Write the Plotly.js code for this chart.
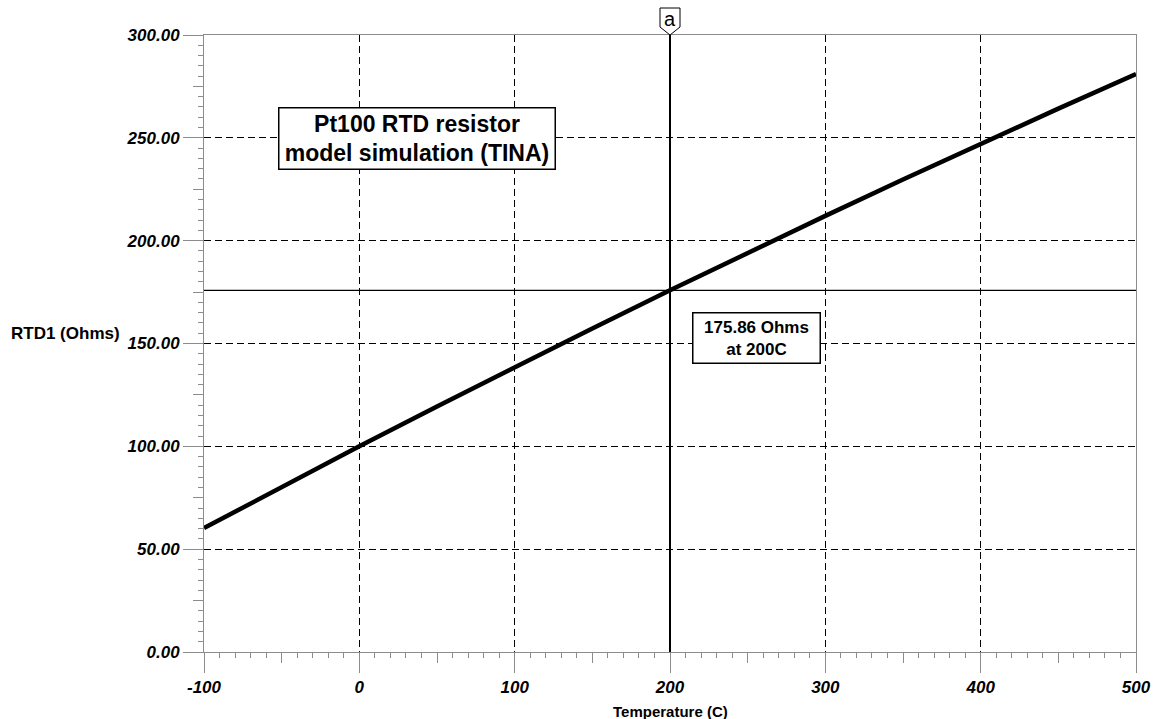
<!DOCTYPE html>
<html>
<head>
<meta charset="utf-8">
<script src="https://cdn.plot.ly/plotly-3.0.1.min.js"></script>
<style>html,body{margin:0;padding:0;background:#fff;}#chart{width:1163px;height:719px;}</style>
</head>
<body>
<div id="chart"></div>
<script>
// Temperature (C) and RTD1 resistance (Ohms)
const temperature = [-100, -50, 0, 50, 100, 150, 200, 250, 300, 350, 400, 450, 500];
const resistance  = [60.26, 80.31, 100.00, 119.40, 138.51, 157.33, 175.86, 194.10, 212.05, 229.72, 247.09, 264.18, 280.98];
const xTickVals   = [-100, 0, 100, 200, 300, 400, 500];
const xTickLabels = ['-100', '0', '100', '200', '300', '400', '500'];
const yTickVals   = [0, 50, 100, 150, 200, 250, 300];
const yTickLabels = ['0.00', '50.00', '100.00', '150.00', '200.00', '250.00', '300.00'];
const xGridVals = [0, 100, 200, 300, 400];
const yGridVals = [50, 100, 150, 200, 250];
const cursorX = 200;
const cursorY = 175.86;
const xRange = [-100, 500];
const yRange = [0, 300];
const boxText = 'Pt100 RTD resistor<br>model simulation (TINA)';
const cursorText = '175.86 Ohms<br>at 200C';

const F = 'Arial, "Liberation Sans", sans-serif';
const gray = '#8c8c8c';

const main = {x: temperature, y: resistance, type: 'scatter', mode: 'lines',
  line: {color: '#000', width: 4.5}, hoverinfo: 'skip', showlegend: false, xaxis: 'x', yaxis: 'y'};
const dummy2 = {x: temperature, y: resistance, type: 'scatter', mode: 'lines',
  line: {width: 0}, opacity: 0, hoverinfo: 'skip', showlegend: false, xaxis: 'x2', yaxis: 'y2'};
const dummy3 = {x: temperature, y: resistance, type: 'scatter', mode: 'lines',
  line: {width: 0}, opacity: 0, hoverinfo: 'skip', showlegend: false, xaxis: 'x3', yaxis: 'y3'};

const dash = '7px,4px';
const tickFont = {family: F, size: 17, weight: 'bold', style: 'italic', color: '#000'};
const layout = {
  width: 1163, height: 719,
  margin: {l: 204, r: 27, t: 35, b: 67},
  paper_bgcolor: '#fff', plot_bgcolor: '#fff',
  showlegend: false,
  xaxis: {range: xRange, tickmode: 'array', tickvals: xTickVals, ticktext: xTickLabels,
    ticks: 'outside', ticklen: 20, tickcolor: gray, tickwidth: 1,
    minor: {dtick: 10, tick0: -100, ticks: 'outside', ticklen: 5, tickcolor: gray, tickwidth: 1, showgrid: false},
    showgrid: false, zeroline: false, showline: true, linecolor: gray, linewidth: 1, mirror: true,
    tickfont: tickFont, fixedrange: true},
  xaxis2: {overlaying: 'x', anchor: 'y2', range: xRange, tick0: -100, dtick: 50, ticks: 'outside', ticklen: 10,
    tickcolor: gray, showticklabels: false, showgrid: false, zeroline: false, showline: false, fixedrange: true},
  xaxis3: {overlaying: 'x', anchor: 'y3', range: xRange, tickvals: xGridVals, ticks: '', showticklabels: false,
    showgrid: true, gridcolor: '#000', gridwidth: 1, griddash: dash, zeroline: false, showline: false, fixedrange: true},
  yaxis: {range: yRange, tickmode: 'array', tickvals: yTickVals, ticktext: yTickLabels,
    ticks: 'outside', ticklen: 20, tickcolor: gray, tickwidth: 1,
    minor: {dtick: 5, tick0: 0, ticks: 'outside', ticklen: 5, tickcolor: gray, tickwidth: 1, showgrid: false},
    showgrid: false, zeroline: false, showline: true, linecolor: gray, linewidth: 1, mirror: true,
    tickfont: tickFont, fixedrange: true},
  yaxis2: {overlaying: 'y', anchor: 'x2', range: yRange, tick0: 0, dtick: 25, ticks: 'outside', ticklen: 10,
    tickcolor: gray, showticklabels: false, showgrid: false, zeroline: false, showline: false, fixedrange: true},
  yaxis3: {overlaying: 'y', anchor: 'x3', range: yRange, tickvals: yGridVals, ticks: '', showticklabels: false,
    showgrid: true, gridcolor: '#000', gridwidth: 1, griddash: dash, zeroline: false, showline: false, fixedrange: true},
  shapes: [
    {type: 'line', xref: 'x', yref: 'y', x0: cursorX, x1: cursorX, y0: yRange[0], y1: yRange[1],
      line: {color: '#000', width: 2}},
    {type: 'line', xref: 'x', yref: 'y', x0: xRange[0], x1: xRange[1], y0: cursorY, y1: cursorY,
      line: {color: '#000', width: 1.3}},
    {type: 'path', xref: 'x', yref: 'paper', xsizemode: 'pixel', ysizemode: 'pixel', xanchor: cursorX, yanchor: 1,
      path: 'M -10,27 L 10,27 L 10,8 L 0,0 L -10,8 Z', fillcolor: '#fff', line: {color: '#000', width: 1}}
  ],
  annotations: [
    {text: 'a', xref: 'x', yref: 'paper', x: cursorX, y: 1, yanchor: 'middle', yshift: 16, showarrow: false,
      font: {family: F, size: 20, color: '#000'}},
    {text: boxText, xref: 'x', yref: 'y', x: 37, y: 249.6, showarrow: false, align: 'center',
      width: 271, font: {family: F, size: 23, weight: 'bold', color: '#000'},
      bordercolor: '#000', borderwidth: 1.5, borderpad: 2, bgcolor: '#fff'},
    {text: cursorText, xref: 'x', yref: 'y', x: 255.4, y: 152.8, showarrow: false, align: 'center',
      width: 118, font: {family: F, size: 17, weight: 'bold', color: '#000'},
      bordercolor: '#000', borderwidth: 1.5, borderpad: 4, bgcolor: '#fff'},
    {text: 'RTD1 (Ohms)', xref: 'paper', yref: 'y', x: 0, y: 150, xanchor: 'left', xshift: -195, yanchor: 'middle',
      yshift: 10, showarrow: false, font: {family: F, size: 17, weight: 'bold', color: '#000'}},
    {text: 'Temperature (C)', xref: 'paper', yref: 'paper', x: 0.5, y: 0, xanchor: 'center', yanchor: 'middle',
      yshift: -59, showarrow: false, font: {family: F, size: 15, weight: 'bold', color: '#000'}}
  ]
};

Plotly.newPlot('chart', [dummy3, dummy2, main], layout, {staticPlot: true, displayModeBar: false});
</script>
</body>
</html>
